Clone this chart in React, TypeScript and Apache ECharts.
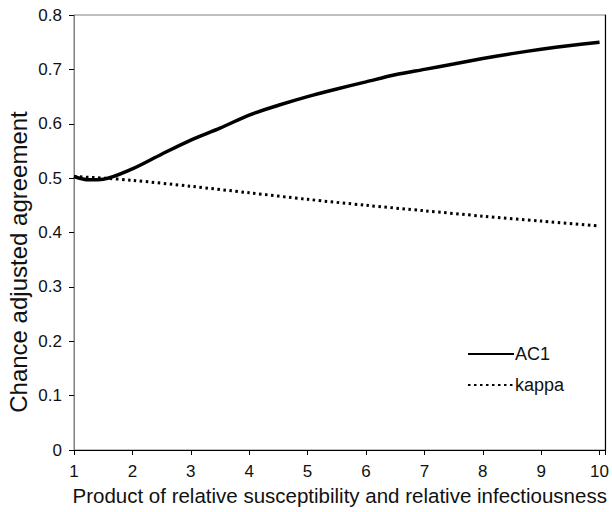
import React, { useEffect, useRef } from "react";
import * as echarts from "echarts";

const xValues = [1, 1.25, 1.5, 2, 2.5, 3, 3.5, 4, 4.5, 5, 5.5, 6, 6.5, 7, 7.5, 8, 8.5, 9, 9.5, 10];
const ac1Values = [0.503, 0.497, 0.498, 0.517, 0.544, 0.570, 0.592, 0.616, 0.634, 0.650, 0.664, 0.677, 0.690, 0.700, 0.710, 0.720, 0.729, 0.737, 0.744, 0.750];
const kappaX = [1, 1.5, 2, 3, 4, 5, 6, 7, 8, 9, 10];
const kappaValues = [0.503, 0.500, 0.496, 0.485, 0.473, 0.461, 0.450, 0.440, 0.430, 0.421, 0.412];
const seriesNames = ["AC1", "kappa"];
const xTitle = "Product of relative susceptibility and relative infectiousness";
const yTitle = "Chance adjusted agreement";

const FONT = "Liberation Sans, Arial, sans-serif";

export default function App() {
  const ref = useRef<HTMLDivElement>(null);
  useEffect(() => {
    if (!ref.current) return;
    const chart = echarts.init(ref.current, undefined, { renderer: "svg" });
    chart.setOption({
      animation: false,
      backgroundColor: "#ffffff",
      textStyle: { fontFamily: FONT },
      grid: {
        left: 74,
        right: 4,
        top: 15,
        bottom: 62,
        show: true,
        borderColor: "#808080",
        borderWidth: 1,
      },
      legend: {
        orient: "vertical",
        left: 462,
        top: 340,
        itemWidth: 46,
        itemHeight: 14,
        itemGap: 13,
        itemStyle: { opacity: 0 },
        textStyle: { fontFamily: FONT, fontSize: 18, color: "#111", padding: [0, 0, 0, -4] },
        data: seriesNames,
      },
      graphic: [
        {
          type: "text",
          rotation: Math.PI / 2,
          style: {
            text: yTitle,
            fontFamily: FONT,
            fontSize: 24,
            fill: "#111",
            textAlign: "center",
            textVerticalAlign: "middle",
          },
          x: 18,
          y: 262,
        },
      ],
      xAxis: {
        type: "value",
        min: 1,
        max: 10.1,
        interval: 1,
        splitLine: { show: false },
        axisLine: { lineStyle: { color: "#000", width: 1.2 } },
        axisTick: { show: true, length: 5, lineStyle: { color: "#000" } },
        axisLabel: {
          color: "#111",
          fontSize: 17,
          fontFamily: FONT,
          margin: 13,
          formatter: (v: number) => (Number.isInteger(v) ? String(v) : ""),
        },
        name: xTitle,
        nameLocation: "middle",
        nameGap: 31,
        nameTextStyle: { fontSize: 20.5, color: "#111", fontFamily: FONT },
      },
      yAxis: [
        {
          type: "value",
          min: 0,
          max: 0.8,
          interval: 0.1,
          splitLine: { show: false },
          axisLine: { show: true, lineStyle: { color: "#808080", width: 1 } },
          axisTick: { show: true, length: 5, lineStyle: { color: "#000" } },
          axisLabel: { color: "#111", fontSize: 17, fontFamily: FONT, margin: 12 },
        },
        {
          type: "value",
          min: 0,
          max: 0.8,
          interval: 0.1,
          position: "right",
          splitLine: { show: false },
          axisLine: { show: true, lineStyle: { color: "#000", width: 1.2 } },
          axisTick: { show: false },
          axisLabel: { show: false },
        },
      ],
      series: [
        {
          name: seriesNames[0],
          type: "line",
          data: xValues.map((x, i) => [x, ac1Values[i]]),
          smooth: 0.3,
          showSymbol: false,
          symbol: "none",
          lineStyle: { color: "#000", width: 3.5 },
          itemStyle: { color: "#000" },
        },
        {
          name: seriesNames[1],
          type: "line",
          data: kappaX.map((x, i) => [x, kappaValues[i]]),
          smooth: 0.3,
          showSymbol: false,
          symbol: "none",
          lineStyle: { color: "#000", width: 3, type: [2.5, 3.5] },
          itemStyle: { color: "#000" },
        },
      ],
    });
    return () => chart.dispose();
  }, []);
  return <div ref={ref} style={{ width: 612, height: 512, position: "absolute", left: 0, top: 0 }} />;
}
